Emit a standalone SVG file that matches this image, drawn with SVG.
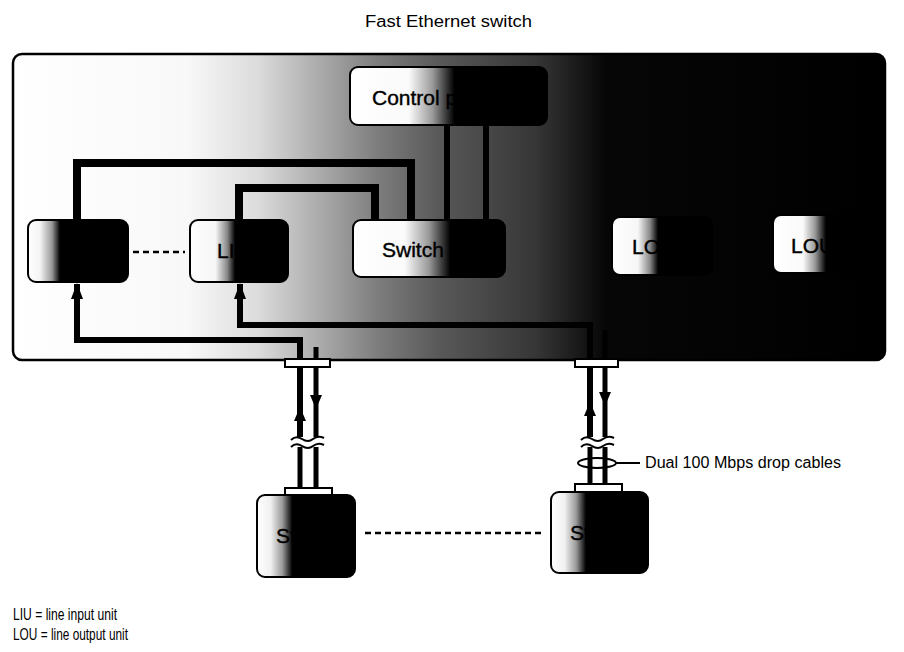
<svg xmlns="http://www.w3.org/2000/svg" width="904" height="652" viewBox="0 0 904 652">
<style>
.lbl{font-family:"Liberation Sans",Arial,sans-serif;fill:#000}
.nt{font-size:21px;stroke:#000;stroke-width:0.4}
.node{stroke:#000;stroke-width:2}
.wire{fill:none;stroke:#000;stroke-width:8;stroke-linejoin:miter}
.wire2{fill:none;stroke:#000;stroke-width:6}
.cable{fill:none;stroke:#000;stroke-width:5}
.plate{fill:#fff;stroke:#000;stroke-width:2}
.dash{fill:none;stroke:#000;stroke-width:2.5;stroke-dasharray:6 4}
.thin{fill:none;stroke:#000;stroke-width:2}
.ah{fill:#000}
</style>
<defs>
<linearGradient id="bg" gradientUnits="userSpaceOnUse" x1="13" y1="0" x2="885" y2="0">
<stop offset="0" stop-color="#fff"/>
<stop offset="0.2" stop-color="#f8f8f8"/>
<stop offset="0.28" stop-color="#dcdcdc"/>
<stop offset="0.35" stop-color="#acacac"/>
<stop offset="0.42" stop-color="#7c7c7c"/>
<stop offset="0.49" stop-color="#585858"/>
<stop offset="0.6" stop-color="#363636"/>
<stop offset="0.68" stop-color="#060606"/>
<stop offset="1" stop-color="#000"/>
</linearGradient>
<linearGradient id="gA" x1="0" y1="0" x2="1" y2="0">
<stop offset="0" stop-color="#fff"/>
<stop offset="0.12" stop-color="#f4f4f4"/>
<stop offset="0.24" stop-color="#999"/>
<stop offset="0.32" stop-color="#000"/>
<stop offset="1" stop-color="#000"/>
</linearGradient>
<linearGradient id="gL" x1="0" y1="0" x2="1" y2="0">
<stop offset="0" stop-color="#fff"/>
<stop offset="0.26" stop-color="#f6f6f6"/>
<stop offset="0.38" stop-color="#888"/>
<stop offset="0.46" stop-color="#000"/>
<stop offset="1" stop-color="#000"/>
</linearGradient>
<linearGradient id="gB" x1="0" y1="0" x2="1" y2="0">
<stop offset="0" stop-color="#fff"/>
<stop offset="0.3" stop-color="#fafafa"/>
<stop offset="0.42" stop-color="#999"/>
<stop offset="0.53" stop-color="#000"/>
<stop offset="1" stop-color="#000"/>
</linearGradient>
<linearGradient id="gW" x1="0" y1="0" x2="1" y2="0">
<stop offset="0" stop-color="#fff"/>
<stop offset="0.34" stop-color="#fafafa"/>
<stop offset="0.5" stop-color="#999"/>
<stop offset="0.64" stop-color="#000"/>
<stop offset="1" stop-color="#000"/>
</linearGradient>
<linearGradient id="gS" x1="0" y1="0" x2="1" y2="0">
<stop offset="0" stop-color="#fff"/>
<stop offset="0.14" stop-color="#f0f0f0"/>
<stop offset="0.26" stop-color="#999"/>
<stop offset="0.36" stop-color="#000"/>
<stop offset="1" stop-color="#000"/>
</linearGradient>
<marker id="arr" markerUnits="userSpaceOnUse" markerWidth="18" markerHeight="14" refX="15" refY="7" orient="auto" viewBox="0 0 18 14">
<path d="M0 1 L16 7 L0 13 Z" fill="#000"/>
</marker>
</defs>

<text class="lbl" x="365" y="27" font-size="16" textLength="167" lengthAdjust="spacingAndGlyphs">Fast Ethernet switch</text>

<g id="switch-frame">
<rect x="13" y="54" width="872" height="306" rx="9" fill="url(#bg)" stroke="#000" stroke-width="2.5"/>
</g>

<g id="connectors">
<path class="wire" d="M77 220 V163 H411 V220"/>
<path class="wire" d="M239 220 V188 H375 V220"/>
<path class="wire2" d="M447 125 V220"/>
<path class="wire2" d="M486 125 V220"/>
<path class="wire2" d="M300 437 V340 H77 V284" marker-end="url(#arr)"/>
<path class="wire2" d="M590 437 V325 H240 V284" marker-end="url(#arr)"/>
<path class="cable" d="M300 447 V488"/>
<path class="cable" d="M316 347 V437 M316 447 V488"/>
<path class="cable" d="M590 447 V484"/>
<path class="cable" d="M605 330 V437 M605 447 V484"/>
<polygon class="ah" points="300,407 306,421 294,421"/>
<polygon class="ah" points="316,409 322,395 310,395"/>
<polygon class="ah" points="590,402 596,416 584,416"/>
<polygon class="ah" points="605,406 611,392 599,392"/>
<rect x="292" y="439" width="32" height="7" fill="#fff"/>
<rect x="582" y="439" width="32" height="7" fill="#fff"/>
<path class="thin" d="M291 440 q5 -5 11 -1 t11 0 t11 -1"/>
<path class="thin" d="M291 447 q5 -5 11 -1 t11 0 t11 -1"/>
<path class="thin" d="M581 440 q5 -5 11 -1 t11 0 t11 -1"/>
<path class="thin" d="M581 447 q5 -5 11 -1 t11 0 t11 -1"/>
<rect class="plate" x="285" y="359" width="45" height="8"/>
<rect class="plate" x="575" y="359" width="43" height="8"/>
<rect class="plate" x="285" y="488" width="47" height="8"/>
<rect class="plate" x="575" y="484" width="47" height="8"/>
<path class="dash" d="M133 252 H185"/>
<path class="dash" d="M365 533 H543"/>
<ellipse class="thin" cx="597" cy="463" rx="19" ry="5"/>
<path class="thin" d="M616 463 H640"/>
</g>

<g id="control">
<rect class="node" x="350" y="67" width="197" height="58" rx="8" fill="url(#gB)"/>
<text class="lbl nt" x="372" y="105">Control processor</text>
</g>
<g id="switch">
<rect class="node" x="353" y="220" width="152" height="57" rx="8" fill="url(#gW)"/>
<text class="lbl nt" x="382" y="257">Switch</text>
</g>
<g id="liu1">
<rect class="node" x="28" y="220" width="100" height="62" rx="8" fill="url(#gA)"/>
<text class="lbl nt" x="63" y="258">LIU</text>
</g>
<g id="liu2">
<rect class="node" x="190" y="220" width="98" height="62" rx="8" fill="url(#gL)"/>
<text class="lbl nt" x="217" y="258">LIU</text>
</g>
<g id="lou1">
<rect class="node" x="612" y="217" width="100" height="58" rx="8" fill="url(#gL)"/>
<text class="lbl nt" x="632" y="254">LOU</text>
</g>
<g id="lou2">
<rect class="node" x="773" y="215" width="100" height="58" rx="8" fill="url(#gB)"/>
<text class="lbl nt" x="791" y="253">LOU</text>
</g>
<g id="station1">
<rect class="node" x="257" y="495" width="98" height="82" rx="8" fill="url(#gS)"/>
<text class="lbl nt" x="276" y="543">Station</text>
</g>
<g id="station2">
<rect class="node" x="551" y="492" width="97" height="81" rx="8" fill="url(#gS)"/>
<text class="lbl nt" x="570" y="540">Station</text>
</g>

<text class="lbl" x="645" y="468" font-size="16" textLength="196" lengthAdjust="spacingAndGlyphs">Dual 100 Mbps drop cables</text>
<text class="lbl" x="13" y="620" font-size="17" textLength="104" lengthAdjust="spacingAndGlyphs">LIU = line input unit</text>
<text class="lbl" x="13" y="640" font-size="17" textLength="115" lengthAdjust="spacingAndGlyphs">LOU = line output unit</text>
</svg>
